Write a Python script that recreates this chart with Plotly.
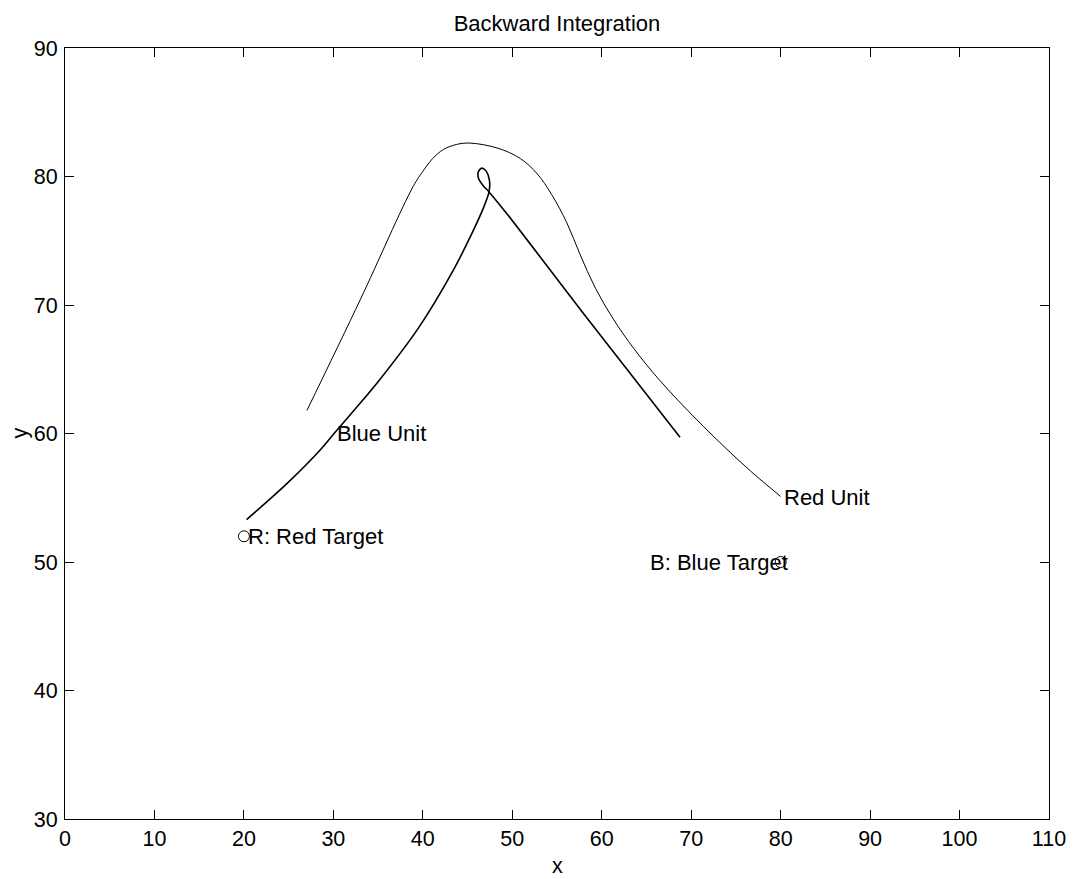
import plotly.graph_objects as go

# red unit path (thin line)
red_x = [27.05, 33.0, 38.9, 40.1, 41.1, 42.3, 43.8, 45.3, 48.4, 50.9, 52.8, 54.4, 56.1, 57.6,
         59.3, 61.3, 63.6, 66.4, 69.6, 73.2, 76.6, 80.0]
red_y = [61.8, 70.4, 79.2, 80.5, 81.4, 82.1, 82.5, 82.6, 82.2, 81.4, 80.2, 78.6, 76.4, 73.9,
         71.3, 68.9, 66.6, 64.2, 61.8, 59.3, 57.1, 55.1]

# blue unit path (heavier line, with the small loop near the top)
blue_x = [20.3, 24.8, 28.5, 30.2, 33.3, 35.2, 39.5, 43.4, 45.3, 46.8, 47.4, 47.45, 47.1, 46.6,
          46.2, 46.25, 46.8, 47.4, 49.4, 58.0, 68.75]
blue_y = [53.3, 56.1, 58.7, 60.1, 62.6, 64.2, 68.2, 72.7, 75.3, 77.6, 78.8, 79.7, 80.4, 80.65,
          80.35, 79.8, 79.25, 78.8, 77.1, 69.3, 59.7]

target_x = [20, 80]
target_y = [52, 50]

labels = ["Blue Unit", "Red Unit", "R: Red Target", "B: Blue Target"]
label_x = [30.2, 80.2, 20.2, 65.2]
label_y = [60.0, 55.0, 52.0, 50.0]

FONT = "Liberation Sans, Arial, Helvetica, sans-serif"
FS = 21.5

fig = go.Figure()
fig.add_trace(go.Scatter(x=red_x, y=red_y, mode='lines', line_shape='spline',
                         line=dict(color='black', width=1, smoothing=1), showlegend=False))
fig.add_trace(go.Scatter(x=blue_x, y=blue_y, mode='lines', line_shape='spline',
                         line=dict(color='black', width=1.6, smoothing=0.9), showlegend=False))
fig.add_trace(go.Scatter(x=target_x, y=target_y, mode='markers',
                         marker=dict(symbol='circle-open', size=11, color='black', line=dict(width=1)),
                         showlegend=False))

for t, lx, ly in zip(labels, label_x, label_y):
    fig.add_annotation(x=lx, y=ly, text=t, showarrow=False, xanchor='left', yanchor='middle',
                       font=dict(family=FONT, size=22, color='black'))

# axis titles as annotations so they sit where the reference has them
fig.add_annotation(x=0.5, y=-0.061, xref='paper', yref='paper', text='x', showarrow=False,
                   xanchor='center', yanchor='middle', font=dict(family=FONT, size=FS, color='black'))
fig.add_annotation(x=-0.0467, y=0.5, xref='paper', yref='paper', text='y', showarrow=False,
                   textangle=-90, xanchor='center', yanchor='middle',
                   font=dict(family=FONT, size=FS, color='black'))

axis_style = dict(showline=True, linecolor='black', linewidth=1, mirror='ticks', ticks='inside',
                  ticklen=9, tickcolor='black', showgrid=False, zeroline=False, automargin=False,
                  tickfont=dict(family=FONT, size=FS, color='black'))

fig.update_xaxes(range=[0, 110], tick0=0, dtick=10, **axis_style)
fig.update_yaxes(range=[30, 90], tick0=30, dtick=10, ticklabelstandoff=2, **axis_style)

# the page body has an 8px margin, so the figure is offset by 8px
fig.update_layout(
    width=1069, height=871,
    margin=dict(l=57, r=28, t=40, b=60),
    paper_bgcolor='white', plot_bgcolor='white',
    title=dict(text='Backward Integration', x=0.5, xref='paper', y=1 - 15 / 871, yref='container',
               yanchor='middle', font=dict(family=FONT, size=22, color='black'), automargin=False),
)

fig.write_html("out.html")
